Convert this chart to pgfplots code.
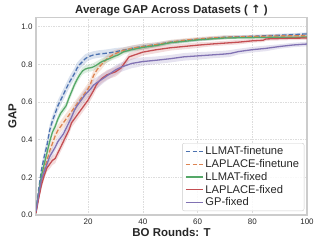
\documentclass[border=0pt]{standalone}
\usepackage{pgfplots}
\pgfplotsset{compat=1.18}
\usepackage{pgfplotstable}
\usepgfplotslibrary{fillbetween}
\usepackage{fontspec}
\setmainfont{Liberation Sans}
\newfontfamily\symf{DejaVu Sans}
\definecolor{cblue}{HTML}{4C72B0}
\definecolor{corange}{HTML}{DD8452}
\definecolor{cgreen}{HTML}{55A868}
\definecolor{cred}{HTML}{C44E52}
\definecolor{cpurple}{HTML}{8172B3}
\definecolor{framegray}{HTML}{CCCCCC}
\definecolor{gridgray}{HTML}{DDDDDD}
\definecolor{txt}{HTML}{262626}

% LLMAT-finetune
\pgfplotstableread{
x y w
1 0.02 0.01
2 0.14 0.02
3 0.24 0.025
4 0.31 0.03
5 0.37 0.03
6 0.45 0.03
7 0.50 0.03
8 0.54 0.03
9 0.58 0.03
10 0.61 0.03
11 0.64 0.03
12 0.67 0.03
13 0.70 0.03
14 0.725 0.03
15 0.75 0.03
16 0.78 0.03
17 0.80 0.025
18 0.815 0.025
19 0.83 0.025
20 0.84 0.02
22 0.85 0.02
24 0.855 0.02
26 0.858 0.02
28 0.862 0.02
30 0.867 0.02
33 0.876 0.015
36 0.885 0.015
40 0.895 0.015
45 0.905 0.012
50 0.917 0.012
55 0.925 0.01
60 0.932 0.01
65 0.938 0.01
70 0.944 0.01
75 0.947 0.008
80 0.949 0.008
85 0.952 0.008
90 0.955 0.008
95 0.958 0.008
100 0.962 0.008
}\tblue

% LAPLACE-finetune
\pgfplotstableread{
x y w
1 0.02 0.01
2 0.10 0.02
3 0.18 0.025
4 0.24 0.03
5 0.29 0.03
6 0.34 0.03
7 0.38 0.03
8 0.42 0.03
9 0.45 0.03
10 0.47 0.03
11 0.49 0.03
12 0.51 0.03
13 0.53 0.03
14 0.55 0.03
15 0.57 0.03
16 0.59 0.03
17 0.61 0.03
18 0.63 0.03
19 0.65 0.03
20 0.67 0.03
21 0.70 0.03
22 0.74 0.03
23 0.765 0.025
24 0.785 0.025
25 0.80 0.025
26 0.815 0.02
27 0.83 0.02
28 0.84 0.02
29 0.85 0.02
30 0.857 0.02
33 0.875 0.015
36 0.885 0.015
40 0.895 0.015
45 0.905 0.012
50 0.918 0.012
55 0.928 0.01
60 0.935 0.01
65 0.94 0.01
70 0.944 0.01
75 0.946 0.008
80 0.948 0.008
85 0.95 0.008
90 0.951 0.008
95 0.952 0.008
100 0.953 0.008
}\torange

% LLMAT-fixed
\pgfplotstableread{
x y w
1 0.02 0.01
2 0.12 0.015
3 0.21 0.02
4 0.27 0.02
5 0.33 0.02
6 0.39 0.02
7 0.44 0.02
8 0.47 0.02
9 0.51 0.02
10 0.54 0.02
11 0.56 0.02
12 0.58 0.02
13 0.62 0.02
14 0.655 0.02
15 0.69 0.02
16 0.72 0.02
17 0.745 0.02
18 0.765 0.02
19 0.775 0.02
20 0.78 0.02
21 0.782 0.02
22 0.787 0.02
23 0.795 0.02
24 0.805 0.018
25 0.814 0.018
26 0.82 0.018
28 0.832 0.015
30 0.845 0.015
31 0.85 0.015
33 0.867 0.015
36 0.878 0.012
40 0.89 0.012
45 0.90 0.01
50 0.915 0.01
55 0.922 0.01
60 0.93 0.008
65 0.935 0.008
70 0.94 0.008
75 0.941 0.008
80 0.942 0.008
85 0.943 0.008
90 0.944 0.008
95 0.944 0.008
100 0.945 0.008
}\tgreen

% LAPLACE-fixed
\pgfplotstableread{
x y w
1 0.01 0.01
2 0.09 0.015
3 0.16 0.02
4 0.21 0.02
5 0.25 0.02
6 0.27 0.025
7 0.29 0.025
8 0.30 0.025
9 0.33 0.025
10 0.36 0.025
11 0.39 0.025
12 0.42 0.025
13 0.45 0.025
14 0.49 0.025
15 0.51 0.025
16 0.53 0.025
17 0.55 0.025
18 0.57 0.025
19 0.59 0.025
20 0.61 0.025
21 0.635 0.025
22 0.66 0.025
23 0.69 0.025
24 0.71 0.025
25 0.725 0.025
26 0.735 0.025
27 0.745 0.025
28 0.75 0.025
29 0.755 0.025
30 0.76 0.025
31 0.77 0.025
32 0.78 0.02
33 0.80 0.02
34 0.82 0.02
35 0.84 0.02
36 0.845 0.02
38 0.855 0.02
40 0.865 0.018
45 0.878 0.018
50 0.888 0.015
55 0.895 0.015
60 0.902 0.015
65 0.908 0.012
70 0.913 0.012
75 0.918 0.012
80 0.925 0.01
84 0.928 0.01
85 0.935 0.01
90 0.937 0.01
95 0.939 0.01
100 0.94 0.01
}\tred

% GP-fixed
\pgfplotstableread{
x y w
1 0.02 0.01
2 0.11 0.015
3 0.19 0.02
4 0.23 0.025
5 0.27 0.025
6 0.31 0.025
7 0.335 0.025
8 0.36 0.025
9 0.39 0.025
10 0.41 0.025
11 0.43 0.025
12 0.46 0.03
13 0.49 0.03
14 0.52 0.03
15 0.555 0.03
16 0.58 0.03
17 0.60 0.03
18 0.62 0.03
19 0.64 0.03
20 0.655 0.03
21 0.67 0.03
22 0.69 0.03
23 0.70 0.03
24 0.71 0.03
26 0.73 0.025
28 0.75 0.025
30 0.77 0.025
32 0.785 0.025
34 0.795 0.025
36 0.805 0.025
38 0.81 0.025
40 0.815 0.022
45 0.822 0.02
50 0.83 0.02
55 0.84 0.02
60 0.845 0.02
65 0.85 0.018
70 0.855 0.018
72 0.858 0.018
75 0.868 0.015
80 0.878 0.015
85 0.885 0.015
90 0.895 0.012
95 0.903 0.012
100 0.908 0.012
}\tpurple

\begin{document}
\begin{tikzpicture}
\begin{axis}[
  scale only axis,
  width=271bp, height=197.7bp,
  xmin=1, xmax=100, ymin=0, ymax=1.05,
  xtick={20,40,60,80,100},
  ytick={0,0.2,0.4,0.6,0.8,1.0},
  yticklabel style={/pgf/number format/fixed, /pgf/number format/fixed zerofill, /pgf/number format/precision=1},
  /pgf/number format/assume math mode=true,
  tick label style={font=\fontsize{8}{9}\selectfont, text=txt},
  major tick length=0pt,
  axis line style={framegray, line width=1.1pt},
  grid=major,
  major grid style={gridgray, line width=0.5pt, dash pattern=on 1.5pt off 1pt},
  title={\bfseries Average GAP Across Datasets ( {\symf\bfseries ↑} )},
  title style={font=\fontsize{11.5}{13}\selectfont, text=txt, anchor=base, at={(0.5,1)}, yshift=-2bp},
  xlabel={\bfseries BO Rounds: T},
  ylabel={\bfseries GAP},
  label style={font=\fontsize{11.5}{13}\selectfont, text=txt},
  xlabel style={yshift=3bp},
  ylabel style={yshift=-2bp},
  legend cell align=left,
  legend style={font=\fontsize{11.2}{13}\selectfont, text=txt, draw=framegray, rounded corners=2pt, fill=white, fill opacity=0.85, text opacity=1, draw opacity=1, at={(0.99,0.02)}, anchor=south east, inner xsep=3pt, inner ysep=1.5pt, row sep=-0.8pt},
  legend image post style={line width=1.1pt},
  legend image code/.code={\draw[#1] (0cm,0cm) -- (0.6cm,0cm);},
]
% bands
\addplot[name path=bu, draw=none, forget plot] table[x=x, y expr=\thisrow{y}+\thisrow{w}] {\tblue};
\addplot[name path=bl, draw=none, forget plot] table[x=x, y expr=\thisrow{y}-\thisrow{w}] {\tblue};
\addplot[cblue, fill opacity=0.2, draw=none, forget plot] fill between[of=bu and bl];
\addplot[name path=ou, draw=none, forget plot] table[x=x, y expr=\thisrow{y}+\thisrow{w}] {\torange};
\addplot[name path=ol, draw=none, forget plot] table[x=x, y expr=\thisrow{y}-\thisrow{w}] {\torange};
\addplot[corange, fill opacity=0.2, draw=none, forget plot] fill between[of=ou and ol];
\addplot[name path=gu, draw=none, forget plot] table[x=x, y expr=\thisrow{y}+\thisrow{w}] {\tgreen};
\addplot[name path=gl, draw=none, forget plot] table[x=x, y expr=\thisrow{y}-\thisrow{w}] {\tgreen};
\addplot[cgreen, fill opacity=0.2, draw=none, forget plot] fill between[of=gu and gl];
\addplot[name path=ru, draw=none, forget plot] table[x=x, y expr=\thisrow{y}+\thisrow{w}] {\tred};
\addplot[name path=rl, draw=none, forget plot] table[x=x, y expr=\thisrow{y}-\thisrow{w}] {\tred};
\addplot[cred, fill opacity=0.2, draw=none, forget plot] fill between[of=ru and rl];
\addplot[name path=pu, draw=none, forget plot] table[x=x, y expr=\thisrow{y}+\thisrow{w}] {\tpurple};
\addplot[name path=pl, draw=none, forget plot] table[x=x, y expr=\thisrow{y}-\thisrow{w}] {\tpurple};
\addplot[cpurple, fill opacity=0.2, draw=none, forget plot] fill between[of=pu and pl];
% lines
\addplot[cblue, line width=1.3pt, dash pattern=on 4.5bp off 2.2bp] table[x=x, y=y] {\tblue};
\addlegendentry{LLMAT-finetune}
\addplot[corange, line width=1.3pt, dash pattern=on 4.5bp off 2.2bp] table[x=x, y=y] {\torange};
\addlegendentry{LAPLACE-finetune}
\addplot[cgreen, line width=1.3pt] table[x=x, y=y] {\tgreen};
\addlegendentry{LLMAT-fixed}
\addplot[cred, line width=1.3pt] table[x=x, y=y] {\tred};
\addlegendentry{LAPLACE-fixed}
\addplot[cpurple, line width=1.3pt] table[x=x, y=y] {\tpurple};
\addlegendentry{GP-fixed}
\end{axis}
\pgfresetboundingbox
\path ([shift={(-36bp,-33bp)}]current axis.south west) rectangle ([shift={(12bp,17.3bp)}]current axis.north east);
\end{tikzpicture}
\end{document}
